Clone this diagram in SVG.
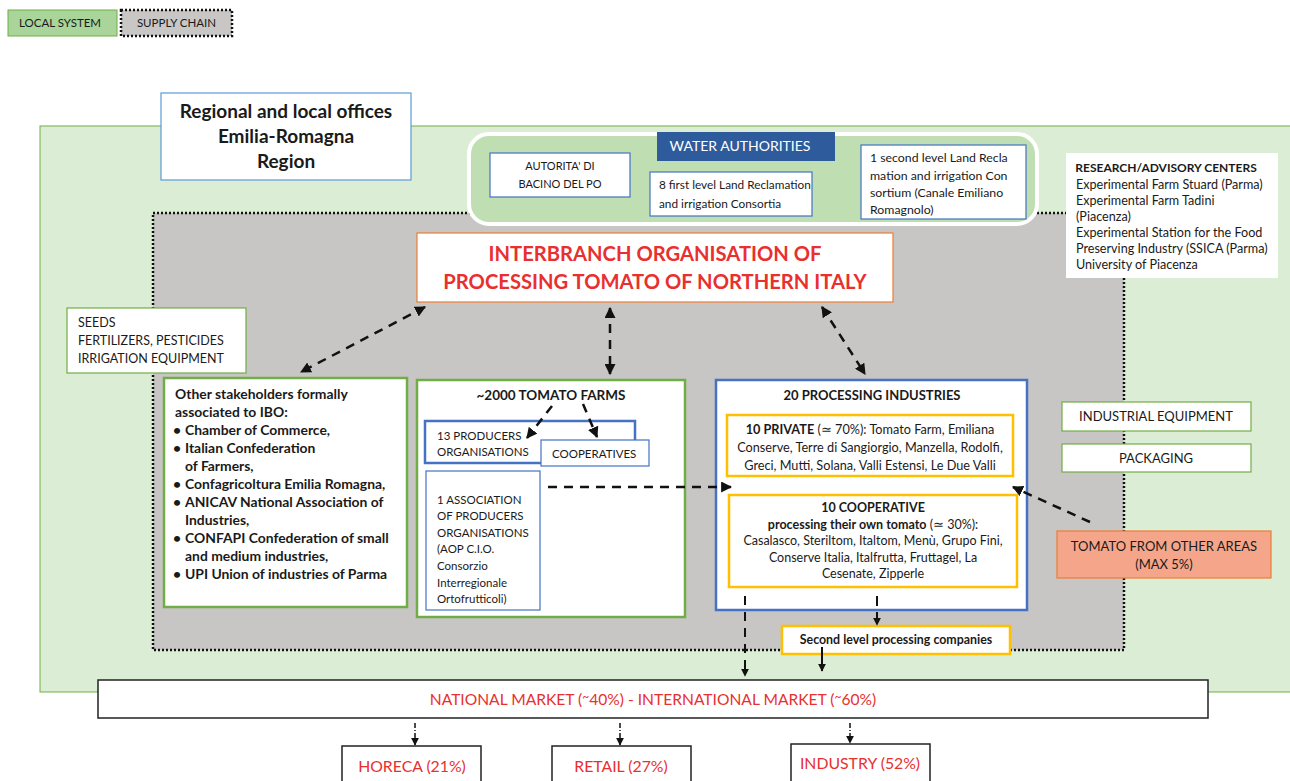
<svg xmlns="http://www.w3.org/2000/svg" width="1290" height="781" viewBox="0 0 1290 781">
<style>
text{font-family:Lato,"Liberation Sans",sans-serif;fill:#1a1a1a}
.b{font-weight:bold}
.red{fill:#e8302f}
.wb{fill:#fff;stroke:#4472c4;stroke-width:1.2}
.wg{fill:#fff;stroke:#70ad47;stroke-width:1.2}
.wg2{fill:#fff;stroke:#70ad47;stroke-width:2.5}
.wb2{fill:#fff;stroke:#4472c4;stroke-width:2.5}
.wy{fill:#fff;stroke:#ffc000;stroke-width:2.5}
.dash{fill:none;stroke:#111;stroke-width:2.5;stroke-dasharray:9 7}
.dd{fill:none;stroke:#111;stroke-width:1.5;stroke-dasharray:5 2 1 2}
.sol{fill:none;stroke:#111;stroke-width:2}
</style>
<defs>
<marker id="ah" viewBox="0 0 10 10" refX="9" refY="5" markerWidth="11" markerHeight="11" markerUnits="userSpaceOnUse" orient="auto-start-reverse">
<path d="M0,0 L10,5 L0,10 z" fill="#111"/>
</marker>
<marker id="ahs" viewBox="0 0 10 10" refX="9" refY="5" markerWidth="8" markerHeight="8" markerUnits="userSpaceOnUse" orient="auto-start-reverse">
<path d="M0,0 L10,5 L0,10 z" fill="#111"/>
</marker>
</defs>
<rect width="1290" height="781" fill="#fff"/>

<g id="legend">
<rect x="8" y="10" width="109" height="26" fill="#a9d49a" stroke="#70ad47" stroke-width="1"/>
<text x="60" y="27" font-size="11.5" text-anchor="middle">LOCAL SYSTEM</text>
<rect x="121" y="10" width="111" height="26" fill="#c8c7c6" stroke="#111" stroke-width="2.5" stroke-dasharray="2 2"/>
<text x="176.5" y="27" font-size="11.5" text-anchor="middle">SUPPLY CHAIN</text>
</g>

<g id="local-system">
<rect x="40" y="126" width="1260" height="566" fill="#dbeed5" stroke="#70ad47" stroke-width="1"/>
</g>

<g id="supply-chain">
<rect x="153" y="213" width="971" height="437" fill="#c7c6c5" stroke="#111" stroke-width="2.5" stroke-dasharray="2 2"/>
</g>

<g id="regional-offices">
<rect x="161" y="93" width="250" height="87" fill="#fff" stroke="#5b9bd5" stroke-width="1.2"/>
<text x="286" y="118" font-size="19" class="b" text-anchor="middle">Regional and local offices</text>
<text x="286" y="143" font-size="19" class="b" text-anchor="middle">Emilia-Romagna</text>
<text x="286" y="168" font-size="19" class="b" text-anchor="middle">Region</text>
</g>

<g id="water-authorities">
<rect x="469" y="134" width="568" height="90" rx="20" fill="#bfdfb3" stroke="#fff" stroke-width="4"/>
<rect x="657" y="132" width="178" height="29" fill="#2e5b9c"/>
<text x="740" y="151" font-size="14" text-anchor="middle" style="fill:#fff">WATER AUTHORITIES</text>
</g>

<g id="autorita-po">
<rect x="490" y="153" width="140" height="44" class="wb"/>
<text x="560" y="170" font-size="11" text-anchor="middle">AUTORITA' DI</text>
<text x="560" y="188" font-size="11" text-anchor="middle">BACINO DEL PO</text>
</g>

<g id="first-level-consortia">
<rect x="650" y="172" width="162" height="44" class="wb"/>
<text x="659" y="189" font-size="11.8">8 first level Land Reclamation</text>
<text x="659" y="208" font-size="11.8">and irrigation Consortia</text>
</g>

<g id="second-level-consortium">
<rect x="861" y="145" width="165" height="74" class="wb"/>
<text x="870" y="162" font-size="12.3">1 second level Land Recla</text>
<text x="870" y="180" font-size="12.3">mation and irrigation Con</text>
<text x="870" y="197" font-size="12.3">sortium (Canale Emiliano</text>
<text x="870" y="214" font-size="12.3">Romagnolo)</text>
</g>

<g id="research-centers">
<rect x="1066" y="153" width="212" height="125" fill="#fff"/>
<text x="1166" y="172" font-size="12" class="b" text-anchor="middle">RESEARCH/ADVISORY CENTERS</text>
<text x="1076" y="189" font-size="12.6">Experimental Farm Stuard (Parma)</text>
<text x="1076" y="205" font-size="12.6">Experimental Farm Tadini</text>
<text x="1076" y="221" font-size="12.6">(Piacenza)</text>
<text x="1076" y="237" font-size="12.6">Experimental Station for the Food</text>
<text x="1076" y="253" font-size="12.6">Preserving Industry (SSICA (Parma)</text>
<text x="1076" y="269" font-size="12.6">University of Piacenza</text>
</g>

<g id="ibo">
<rect x="417" y="233" width="476" height="69" fill="#fff" stroke="#ed7d31" stroke-width="1.2"/>
<text x="655" y="261" font-size="20.2" class="b red" text-anchor="middle">INTERBRANCH ORGANISATION OF</text>
<text x="655" y="289" font-size="20.2" class="b red" text-anchor="middle">PROCESSING TOMATO OF NORTHERN ITALY</text>
</g>

<g id="inputs">
<rect x="67" y="308" width="179" height="65" class="wg"/>
<text x="78" y="327" font-size="12.5">SEEDS</text>
<text x="78" y="345" font-size="12.5">FERTILIZERS, PESTICIDES</text>
<text x="78" y="363" font-size="12.5">IRRIGATION EQUIPMENT</text>
</g>

<g id="other-stakeholders">
<rect x="164" y="378" width="243" height="229" class="wg2"/>
<g font-size="13.9" class="b">
<text x="175" y="399" class="b">Other stakeholders formally</text>
<text x="175" y="417" class="b">associated to IBO:</text>
<text x="173" y="435" class="b">•</text><text x="185" y="435" class="b">Chamber of Commerce,</text>
<text x="173" y="453" class="b">•</text><text x="185" y="453" class="b">Italian Confederation</text>
<text x="185" y="471" class="b">of  Farmers,</text>
<text x="173" y="489" class="b">•</text><text x="185" y="489" class="b">Confagricoltura Emilia Romagna,</text>
<text x="173" y="507" class="b">•</text><text x="185" y="507" class="b">ANICAV National Association of</text>
<text x="185" y="525" class="b">Industries,</text>
<text x="173" y="543" class="b">•</text><text x="185" y="543" class="b">CONFAPI Confederation of small</text>
<text x="185" y="561" class="b">and medium industries,</text>
<text x="173" y="579" class="b">•</text><text x="185" y="579" class="b">UPI Union of industries of Parma</text>
</g>
</g>

<g id="tomato-farms">
<rect x="417" y="380" width="268" height="237" class="wg2"/>
<text x="551" y="400" font-size="13.5" class="b" text-anchor="middle">~2000 TOMATO FARMS</text>
</g>

<g id="producers-organisations">
<rect x="425" y="421" width="210" height="42" class="wb2"/>
<text x="437" y="440" font-size="11.5">13 PRODUCERS</text>
<text x="437" y="456" font-size="11.5">ORGANISATIONS</text>
</g>

<g id="cooperatives">
<rect x="541" y="440" width="108" height="26" class="wb"/>
<text x="552" y="458" font-size="11.5">COOPERATIVES</text>
</g>

<g id="aop">
<rect x="426" y="471" width="114" height="139" class="wb"/>
<g font-size="11.5">
<text x="437" y="504">1 ASSOCIATION</text>
<text x="437" y="520">OF  PRODUCERS</text>
<text x="437" y="537">ORGANISATIONS</text>
<text x="437" y="553">(AOP C.I.O.</text>
<text x="437" y="570">Consorzio</text>
<text x="437" y="587">Interregionale</text>
<text x="437" y="603">Ortofrutticoli)</text>
</g>
</g>

<g id="processing-industries">
<rect x="716" y="380" width="311" height="230" class="wb2"/>
<text x="872" y="400" font-size="13" class="b" text-anchor="middle">20 PROCESSING INDUSTRIES</text>
</g>

<g id="private-industries">
<rect x="727" y="415" width="286" height="61" class="wy"/>
<g font-size="12.7" text-anchor="middle">
<text x="870" y="434"><tspan class="b">10 PRIVATE</tspan> (≃ 70%): Tomato Farm, Emiliana</text>
<text x="870" y="452">Conserve, Terre di Sangiorgio, Manzella, Rodolfi,</text>
<text x="870" y="470">Greci, Mutti, Solana, Valli Estensi, Le Due Valli</text>
</g>
</g>

<g id="cooperative-industries">
<rect x="729" y="495" width="288" height="92" class="wy"/>
<g font-size="12.5" text-anchor="middle">
<text x="873" y="512" class="b">10 COOPERATIVE</text>
<text x="873" y="529"><tspan class="b">processing their own tomato</tspan> (≃ 30%):</text>
<text x="873" y="545">Casalasco, Steriltom, Italtom, Menù, Grupo Fini,</text>
<text x="873" y="562">Conserve Italia, Italfrutta, Fruttagel, La</text>
<text x="873" y="578">Cesenate, Zipperle</text>
</g>
</g>

<g id="second-level-processing">
<rect x="782" y="626" width="228" height="28" class="wy"/>
<text x="896" y="644" font-size="12.4" class="b" text-anchor="middle">Second level processing companies</text>
</g>

<g id="industrial-equipment">
<rect x="1062" y="402" width="189" height="29" class="wg"/>
<text x="1156" y="421" font-size="13" text-anchor="middle">INDUSTRIAL EQUIPMENT</text>
</g>

<g id="packaging">
<rect x="1062" y="444" width="189" height="28" class="wg"/>
<text x="1156" y="463" font-size="13" text-anchor="middle">PACKAGING</text>
</g>

<g id="other-areas">
<rect x="1057" y="531" width="214" height="47" fill="#f5a68a" stroke="#ed7d31" stroke-width="1.2"/>
<text x="1164" y="551" font-size="13" text-anchor="middle">TOMATO FROM OTHER AREAS</text>
<text x="1164" y="569" font-size="13" text-anchor="middle">(MAX 5%)</text>
</g>

<g id="market">
<rect x="98" y="680" width="1110" height="38" fill="#fff" stroke="#222" stroke-width="1.5"/>
<text x="653" y="705" font-size="15.6" class="red" text-anchor="middle">NATIONAL MARKET (<tspan dy="-4" font-size="12">~</tspan><tspan dy="4">40%) - INTERNATIONAL MARKET (</tspan><tspan dy="-4" font-size="12">~</tspan><tspan dy="4">60%)</tspan></text>
</g>

<g id="horeca">
<rect x="342" y="746" width="139" height="40" fill="#fff" stroke="#222" stroke-width="1.5"/>
<text x="412" y="772" font-size="15.8" class="red" text-anchor="middle">HORECA (21%)</text>
</g>
<g id="retail">
<rect x="552" y="746" width="139" height="40" fill="#fff" stroke="#222" stroke-width="1.5"/>
<text x="621" y="772" font-size="15.8" class="red" text-anchor="middle">RETAIL (27%)</text>
</g>
<g id="industry">
<rect x="791" y="744" width="139" height="42" fill="#fff" stroke="#222" stroke-width="1.5"/>
<text x="860" y="769" font-size="15.8" class="red" text-anchor="middle">INDUSTRY (52%)</text>
</g>

<g id="connectors">
<line x1="425" y1="307" x2="301" y2="372" class="dash" marker-start="url(#ah)" marker-end="url(#ah)"/>
<line x1="610" y1="308" x2="610" y2="374" class="dash" marker-start="url(#ah)" marker-end="url(#ah)"/>
<line x1="822" y1="307" x2="865" y2="374" class="dash" marker-start="url(#ah)" marker-end="url(#ah)"/>
<line x1="552" y1="406" x2="527" y2="438" class="dash" stroke-dasharray="7 4" marker-end="url(#ah)"/>
<line x1="583" y1="404" x2="597" y2="437" class="dash" stroke-dasharray="7 4" marker-end="url(#ah)"/>
<line x1="548" y1="487" x2="731" y2="487" class="dash" marker-end="url(#ah)"/>
<line x1="1090" y1="522" x2="1013" y2="487" class="dash" marker-end="url(#ah)"/>
<line x1="877" y1="596" x2="877" y2="625" class="sol" stroke-width="2" stroke-dasharray="10 6" marker-end="url(#ahs)"/>
<line x1="745" y1="596" x2="745" y2="676" class="sol" stroke-width="2" stroke-dasharray="9 7" marker-end="url(#ahs)"/>
<line x1="822" y1="647" x2="822" y2="671" class="sol" marker-end="url(#ahs)"/>
<line x1="415" y1="723" x2="415" y2="745" class="dd" marker-end="url(#ahs)"/>
<line x1="620" y1="723" x2="620" y2="745" class="dd" marker-end="url(#ahs)"/>
<line x1="850" y1="723" x2="850" y2="743" class="dd" marker-end="url(#ahs)"/>
</g>
</svg>
